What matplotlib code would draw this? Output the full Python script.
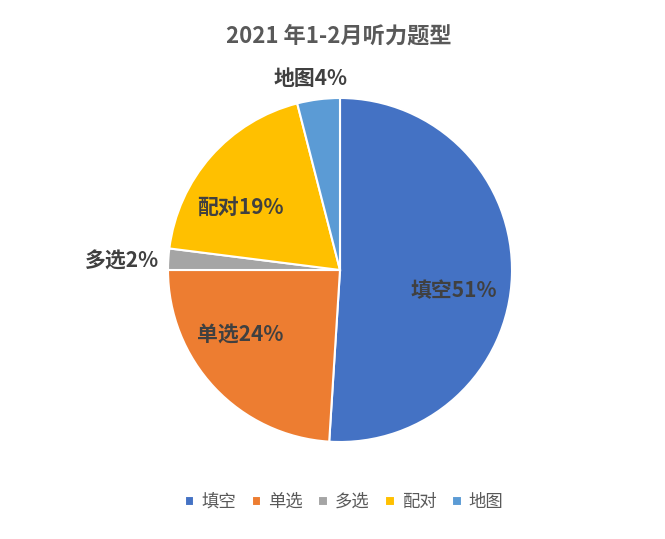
import matplotlib
matplotlib.use('Agg')
import matplotlib.pyplot as plt

plt.rcParams['font.family'] = ['Noto Sans CJK SC', 'DejaVu Sans']

categories = ['填空', '单选', '多选', '配对', '地图']
shares = [51, 24, 2, 19, 4]
colors = ['#4472C4', '#ED7D31', '#A5A5A5', '#FFC000', '#5B9BD5']
title = '2021 年1-2月听力题型'

# label placement (data units, pie radius = 1)
label_xy = [(0.663, -0.122), (-0.578, -0.378), (-1.267, 0.052), (-0.578, 0.366), (-0.174, 1.116)]

fig = plt.figure(figsize=(6.65, 5.39), dpi=100)
W, H = 665, 539
cx, cy, r = 340, 270, 172
ax = fig.add_axes([(cx - r) / W, (H - cy - r) / H, 2 * r / W, 2 * r / H])

wedges, _ = ax.pie(shares, colors=colors, startangle=90, counterclock=False,
                   radius=1, wedgeprops=dict(edgecolor='white', linewidth=1.5))
ax.set_xlim(-1, 1)
ax.set_ylim(-1, 1)
ax.set_aspect('equal')
ax.axis('off')

for name, v, (x, y) in zip(categories, shares, label_xy):
    ax.text(x, y, f'{name}{v}%', ha='center', va='center', fontsize=15,
            fontweight='bold', color='#404040', clip_on=False)

fig.text(339 / W, 1 - 36 / H, title, ha='center', va='center', fontsize=16,
         fontweight='bold', color='#595959')

fig.legend(wedges, categories, loc='center', bbox_to_anchor=(344 / W, 1 - 502 / H),
           ncol=5, frameon=False, fontsize=12.5, handlelength=0.55, handleheight=0.55,
           handletextpad=0.4, columnspacing=0.9, labelcolor='#595959')

fig.savefig('out.png', dpi=100)
